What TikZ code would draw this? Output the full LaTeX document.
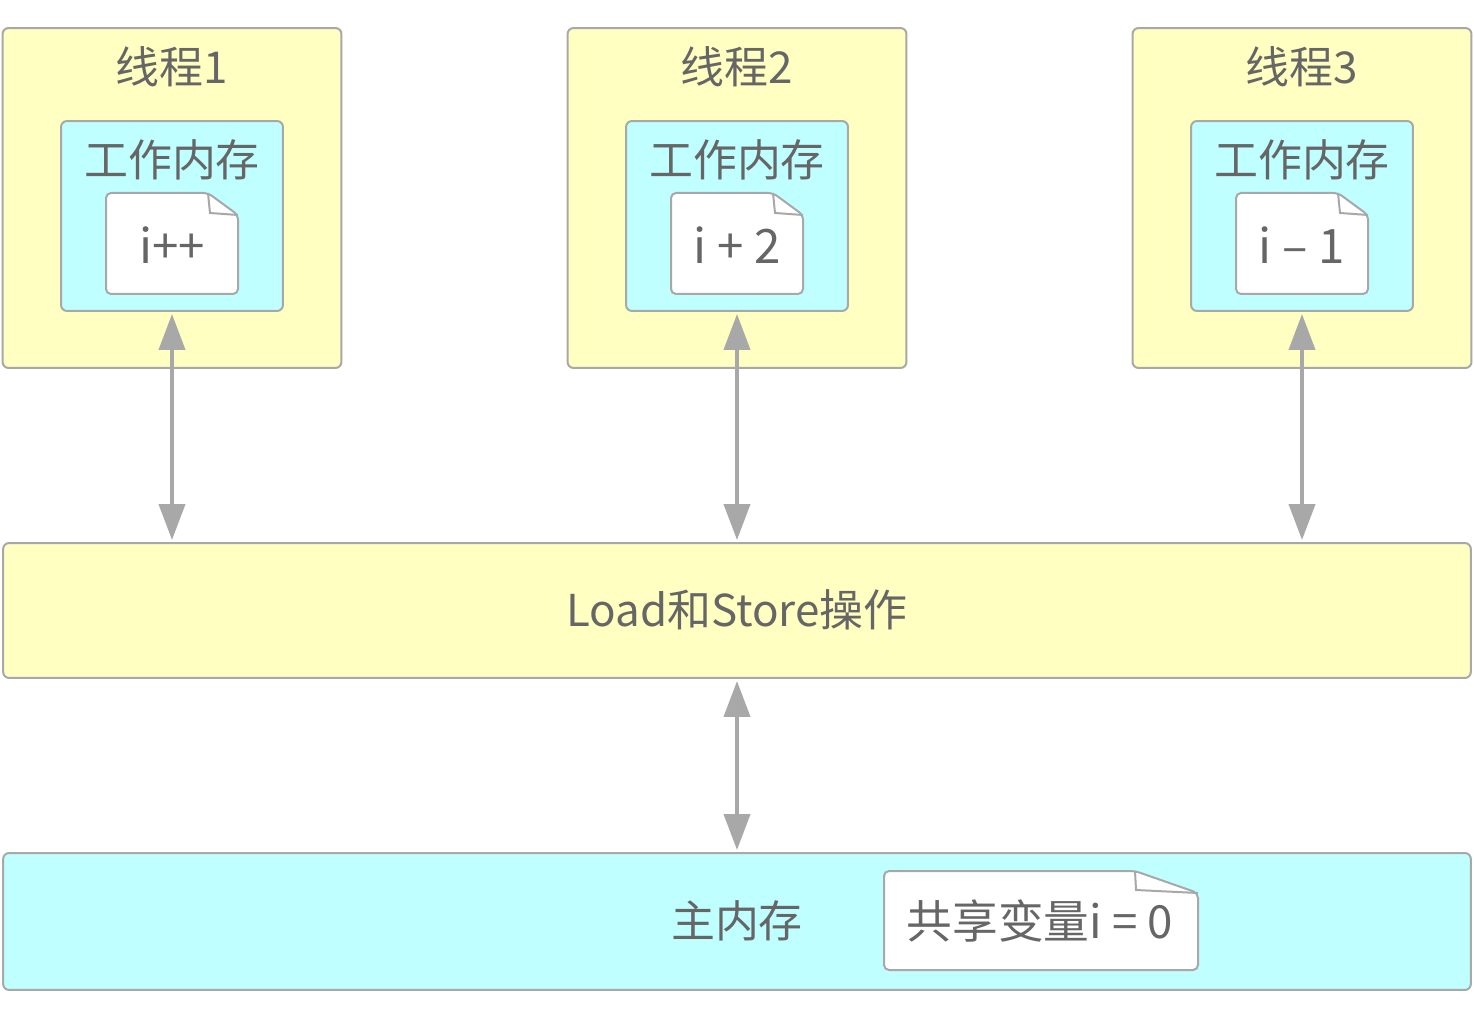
\documentclass[tikz,border=0pt]{standalone}
\usepackage{fontspec}
\setmainfont{Noto Sans CJK SC}
\usepackage{xcolor}
\usetikzlibrary{arrows.meta}

\definecolor{boxyellow}{HTML}{FFFFC2}
\definecolor{boxcyan}{HTML}{BFFFFF}
\definecolor{edgegray}{HTML}{A8A8A8}
\definecolor{textgray}{HTML}{666666}

\begin{document}
\begin{tikzpicture}[x=0.02cm, y=-0.02cm,
    box/.style={draw=edgegray, line width=0.04cm, rounded corners=0.12cm, inner sep=0pt},
    yellowbox/.style={box, fill=boxyellow},
    cyanbox/.style={box, fill=boxcyan},
    txt/.style={text=textgray, inner sep=0pt, font=\fontsize{25}{30}\selectfont},
    notetxt/.style={txt, font=\fontsize{27}{32}\selectfont},
    paper/.style={draw=edgegray, fill=white, line width=0.04cm, rounded corners=0.1cm},
    fold/.style={draw=edgegray, line width=0.04cm},
    link/.style={draw=edgegray, line width=0.08cm, shorten <=0.04cm, shorten >=0.04cm,
        {Triangle[width=0.52cm,length=0.72cm]}-{Triangle[width=0.52cm,length=0.72cm]}}]
\useasboundingbox (0,0) rectangle (1474,1020);

% shared level
\node[yellowbox, minimum width=29.36cm, minimum height=2.7cm] (load) at (737,610.5) {};
\node[txt] (loadtext) at (737,610) {Load和Store操作};
\node[cyanbox, minimum width=29.36cm, minimum height=2.74cm] (main) at (737,921.5) {};
\node[txt] (maintext) at (737,921) {主内存};
\draw[paper] (884,970) -- (884,871) -- (1135,871) -- (1198,893) -- (1198,970) -- cycle;
\draw[fold] (1135,871) -- (1136,890) -- (1198,893);
\node[txt, font=\fontsize{26}{31}\selectfont] (shared) at (1040,921) {共享变量i = 0};

% threads
\foreach \cx/\n/\val in {172/1/{i++}, 737/2/{i + 2}, 1302/3/{i – 1}} {
    \node[yellowbox, minimum width=6.78cm, minimum height=6.8cm] (thread\n) at (\cx,198) {};
    \node[txt] (title\n) at (\cx,67) {线程\n};
    \node[cyanbox, minimum width=4.44cm, minimum height=3.8cm] (work\n) at (\cx,216) {};
    \node[txt] (worktitle\n) at (\cx,160) {工作内存};
    \draw[paper] (\cx-66,294) -- (\cx-66,193) -- (\cx+36,193) -- (\cx+66,215) -- (\cx+66,294) -- cycle;
    \draw[fold] (\cx+36,193) -- (\cx+38,213) -- (\cx+66,215);
    \node[notetxt] (op\n) at (\cx,245) {\val};
}

\foreach \n in {1,2,3}
    \draw[link] (work\n.south) -- (work\n.south |- load.north);
\draw[link] (load.south) -- (main.north);
\end{tikzpicture}
\end{document}
